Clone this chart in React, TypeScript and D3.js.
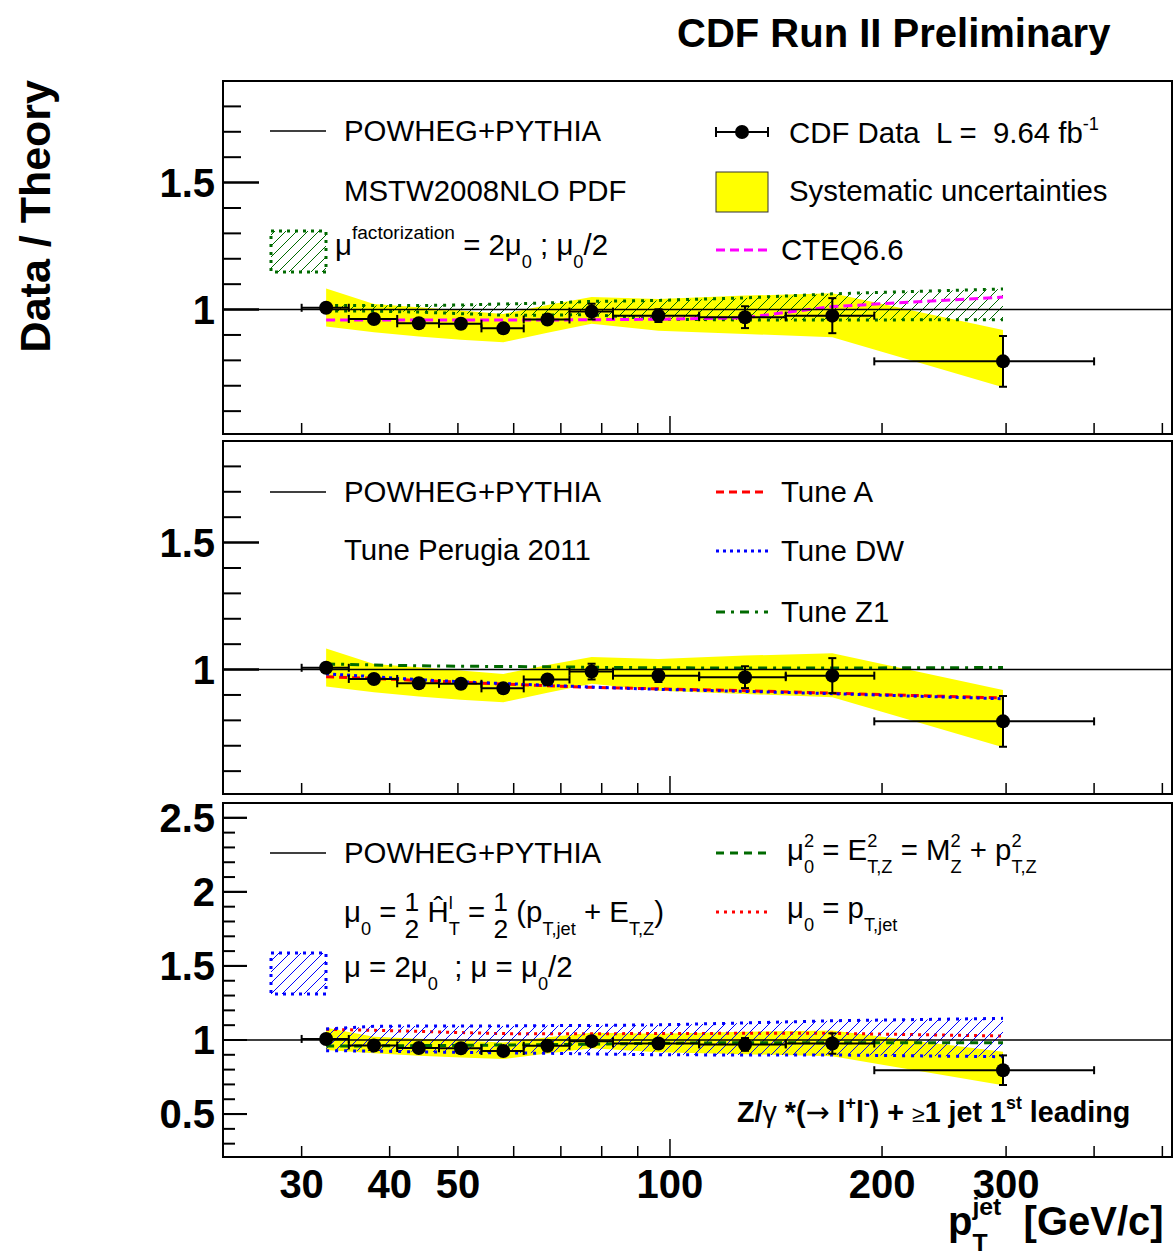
import React from "react";
import * as d3 from "d3";

const binEdges = [30, 35, 41, 47, 54, 62, 72, 83, 110, 146, 195, 400];
const ptMean = [32.5, 38, 44, 50.5, 58, 67, 77.4, 96.3, 127.8, 170, 297];
const ratio = [1.007, 0.963, 0.946, 0.944, 0.926, 0.961, 0.992, 0.976, 0.97, 0.976, 0.796];
const statErr = [0.005, 0.006, 0.006, 0.007, 0.008, 0.01, 0.031, 0.025, 0.043, 0.069, 0.1];
const sysHi = [1.083, 1.022, 1.009, 0.996, 0.983, 1.018, 1.049, 1.042, 1.055, 1.064, 0.92];
const sysLo = [0.933, 0.911, 0.894, 0.881, 0.871, 0.909, 0.944, 0.917, 0.904, 0.891, 0.694];

// top panel: PDF / factorization scale
const muFHi = [1.016, 1.016, 1.016, 1.018, 1.022, 1.026, 1.032, 1.036, 1.046, 1.062, 1.081];
const muFLo = [0.994, 0.994, 0.99, 0.984, 0.978, 0.978, 0.98, 0.962, 0.959, 0.959, 0.96];
const cteq66 = [0.959, 0.959, 0.959, 0.959, 0.959, 0.959, 0.96, 0.962, 0.968, 1.012, 1.049];

// middle panel: underlying event tunes
const tuneA = [0.972, 0.965, 0.957, 0.95, 0.943, 0.936, 0.93, 0.924, 0.917, 0.907, 0.888];
const tuneDW = [0.983, 0.972, 0.96, 0.952, 0.945, 0.938, 0.931, 0.922, 0.914, 0.905, 0.885];
const tuneZ1 = [1.022, 1.018, 1.015, 1.013, 1.012, 1.011, 1.009, 1.007, 1.006, 1.006, 1.008];

// bottom panel: renormalization scale choices
const muHi = [1.075, 1.092, 1.095, 1.095, 1.095, 1.097, 1.098, 1.102, 1.115, 1.13, 1.146];
const muLo = [0.928, 0.925, 0.92, 0.916, 0.913, 0.91, 0.906, 0.9, 0.899, 0.899, 0.887];
const muPtJet = [1.072, 1.065, 1.058, 1.05, 1.043, 1.042, 1.042, 1.044, 1.045, 1.045, 1.027];
const muETZ = [0.959, 0.96, 0.962, 0.964, 0.966, 0.968, 0.972, 0.978, 0.982, 0.982, 0.982];

// axis ticks
const xTicks = [30, 40, 50, 60, 70, 80, 90, 100, 200, 300, 400, 500];
const xLabels = [30, 40, 50, 100, 200, 300];
const yMinorTop = d3.range(6, 19).map((v) => v / 10);
const yMajorTop = [1, 1.5];
const yMinorBot = d3.range(3, 26).map((v) => v / 10);
const yMajorBot = [0.5, 1, 1.5, 2, 2.5];

const FONT = "'Liberation Sans', Arial, Helvetica, sans-serif";
const X0 = 223;
const X1 = 1172;
const x = d3.scaleLog().domain([23.2, 516]).range([X0, X1]);

type Seg = { t: string; sc?: number; off?: number; back?: number; fw?: string; ff?: string };
const sup = (t: string, back?: number): Seg => ({ t, sc: 0.62, off: -0.45, back });
const sub = (t: string, back?: number): Seg => ({ t, sc: 0.62, off: 0.45, back });

function Rich({ x, y, size, segs, bold, anchor }: { x: number; y: number; size: number; segs: Seg[]; bold?: boolean; anchor?: string }) {
  let cur = 0;
  return (
    <text x={x} y={y} fontSize={size} fontWeight={bold ? "bold" : "normal"} textAnchor={anchor || "start"} style={{ whiteSpace: "pre" }}>
      {segs.map((s, i) => {
        const off = s.off ?? 0;
        const dy = (off - cur) * size;
        cur = off;
        return (
          <tspan key={i} dy={dy} dx={s.back ? -s.back * size : 0} fontSize={(s.sc ?? 1) * size} fontWeight={s.fw} fontFamily={s.ff}>
            {s.t}
          </tspan>
        );
      })}
    </text>
  );
}

function Panel({ top, bottom, dom, minor, major, majLen, minLen, children }: any) {
  const y = d3.scaleLinear().domain(dom).range([bottom, top]);
  return (
    <g>
      {children(y)}
      <line x1={X0} x2={X1} y1={y(1)} y2={y(1)} stroke="#000" strokeWidth={1.5} />
      <rect x={X0} y={top} width={X1 - X0} height={bottom - top} fill="none" stroke="#000" strokeWidth={2} />
      {minor.map((v: number) => (
        <line key={"m" + v} x1={X0} x2={X0 + (major.some((m: number) => Math.abs(m - v) < 1e-6) ? majLen : minLen)} y1={y(v)} y2={y(v)} stroke="#000" strokeWidth={2} />
      ))}
      {major.map((v: number) => (
        <g key={"M" + v}>
          <line x1={X0} x2={X0 + majLen} y1={y(v)} y2={y(v)} stroke="#000" strokeWidth={2} />
          <text x={215} y={y(v) + 14} textAnchor="end" fontSize={40} fontWeight="bold">{String(v)}</text>
        </g>
      ))}
      {xTicks.map((t) => (
        <line key={"x" + t} x1={x(t)} x2={x(t)} y1={bottom} y2={bottom - (t === 100 ? 18 : 11)} stroke="#000" strokeWidth={1.5} />
      ))}
    </g>
  );
}

function DataPoints({ y }: { y: (v: number) => number }) {
  return (
    <g stroke="#000" strokeWidth={2}>
      {ratio.map((r, i) => {
        const cy = y(r);
        const xl = x(binEdges[i]);
        const xr = x(binEdges[i + 1]);
        const cx = x(ptMean[i]);
        const yt = y(r + statErr[i]);
        const yb = y(r - statErr[i]);
        return (
          <g key={i}>
            <line x1={xl} x2={xr} y1={cy} y2={cy} />
            <line x1={xl} x2={xl} y1={cy - 4} y2={cy + 4} />
            <line x1={xr} x2={xr} y1={cy - 4} y2={cy + 4} />
            <line x1={cx} x2={cx} y1={yt} y2={yb} />
            <line x1={cx - 4} x2={cx + 4} y1={yt} y2={yt} />
            <line x1={cx - 4} x2={cx + 4} y1={yb} y2={yb} />
            <circle cx={cx} cy={cy} r={7} fill="#000" stroke="none" />
          </g>
        );
      })}
    </g>
  );
}

function bandPath(y: any, hi: number[], lo: number[]) {
  return d3
    .area<number>()
    .x((_, i) => x(ptMean[i]))
    .y0((_, i) => y(lo[i]))
    .y1((_, i) => y(hi[i]))(hi) as string;
}
function linePath(y: any, vals: number[]) {
  return d3
    .line<number>()
    .x((_, i) => x(ptMean[i]))
    .y((d) => y(d))(vals) as string;
}

const GREEN = "#006a00";

function HatchBand({ y, hi, lo, pat, color }: any) {
  return (
    <g>
      <path d={bandPath(y, hi, lo)} fill={`url(#${pat})`} stroke="none" />
      <path d={linePath(y, hi)} fill="none" stroke={color} strokeWidth={3} strokeDasharray="3 6" />
      <path d={linePath(y, lo)} fill="none" stroke={color} strokeWidth={3} strokeDasharray="3 6" />
    </g>
  );
}

export default function App() {
  return (
    <svg width={1175} height={1258} style={{ position: "absolute", left: 0, top: 0, background: "#fff" }} fontFamily={FONT}>
      <defs>
        <pattern id="hg" patternUnits="userSpaceOnUse" width={11} height={11}>
          <path d="M0,11 L11,0 M-3,3 L3,-3 M8,14 L14,8" stroke={GREEN} strokeWidth={1} />
        </pattern>
        <pattern id="hb" patternUnits="userSpaceOnUse" width={11} height={11}>
          <path d="M0,11 L11,0 M-3,3 L3,-3 M8,14 L14,8" stroke="#0000ff" strokeWidth={1} />
        </pattern>
      </defs>
      <rect width={1175} height={1258} fill="#fff" />

      <text x={677} y={47} fontSize={40} fontWeight="bold">CDF Run II Preliminary</text>
      <text transform="translate(50,80) rotate(-90)" textAnchor="end" fontSize={43} fontWeight="bold">Data / Theory</text>

      {/* top panel */}
      <Panel top={81} bottom={434} dom={[0.51, 1.9]} minor={yMinorTop} major={yMajorTop} majLen={36} minLen={18}>
        {(y: any) => (
          <g>
            <path d={bandPath(y, sysHi, sysLo)} fill="#ffff00" />
            <HatchBand y={y} hi={muFHi} lo={muFLo} pat="hg" color={GREEN} />
            <path d={linePath(y, cteq66)} fill="none" stroke="#ff00ff" strokeWidth={3} strokeDasharray="9 5" />
            <DataPoints y={y} />
          </g>
        )}
      </Panel>

      {/* middle panel */}
      <Panel top={441} bottom={794} dom={[0.51, 1.9]} minor={yMinorTop} major={yMajorTop} majLen={36} minLen={18}>
        {(y: any) => (
          <g>
            <path d={bandPath(y, sysHi, sysLo)} fill="#ffff00" />
            <path d={linePath(y, tuneZ1)} fill="none" stroke={GREEN} strokeWidth={3} strokeDasharray="9 6 3 6" />
            <path d={linePath(y, tuneA)} fill="none" stroke="#ff0000" strokeWidth={3} strokeDasharray="8 5" />
            <path d={linePath(y, tuneDW)} fill="none" stroke="#0000ff" strokeWidth={3} strokeDasharray="3 4" />
            <DataPoints y={y} />
          </g>
        )}
      </Panel>

      {/* bottom panel */}
      <Panel top={803} bottom={1157} dom={[0.21, 2.6]} minor={yMinorBot} major={yMajorBot} majLen={24} minLen={12}>
        {(y: any) => (
          <g>
            <path d={bandPath(y, sysHi, sysLo)} fill="#ffff00" />
            <path d={linePath(y, muPtJet)} fill="none" stroke="#ff0000" strokeWidth={3} strokeDasharray="3 5" />
            <HatchBand y={y} hi={muHi} lo={muLo} pat="hb" color="#0000ff" />
            <path d={linePath(y, muETZ)} fill="none" stroke={GREEN} strokeWidth={3} strokeDasharray="8 6" />
            <DataPoints y={y} />
          </g>
        )}
      </Panel>

      {/* x axis labels */}
      {xLabels.map((t) => (
        <text key={t} x={x(t)} y={1198} textAnchor="middle" fontSize={40} fontWeight="bold">{String(t)}</text>
      ))}
      <Rich x={948} y={1235} size={40} bold segs={[{ t: "p" }, { t: "T", sc: 0.62, off: 0.4 }, { t: "jet", sc: 0.62, off: -0.5, back: 0.611 * 0.62 }, { t: "  [GeV/c]", off: 0 }]} />

      {/* top legend */}
      <g fontSize={29.4}>
        <line x1={270} x2={326} y1={131} y2={131} stroke="#000" strokeWidth={1.5} />
        <text x={344} y={141}>POWHEG+PYTHIA</text>
        <text x={344} y={201}>MSTW2008NLO PDF</text>
        <rect x={271} y={231} width={55} height={41} fill="url(#hg)" stroke={GREEN} strokeWidth={3} strokeDasharray="3 5" />
        <Rich x={335} y={255} size={29.4} segs={[{ t: "μ" }, { t: "factorization", sc: 0.65, off: -0.55 }, { t: " = 2μ", off: 0 }, sub("0"), { t: " ; μ", off: 0 }, sub("0"), { t: "/2", off: 0 }]} />
        <g stroke="#000" strokeWidth={2}>
          <line x1={716} x2={768} y1={132} y2={132} />
          <line x1={716} x2={716} y1={127} y2={137} />
          <line x1={768} x2={768} y1={127} y2={137} />
          <circle cx={742} cy={132} r={7} fill="#000" stroke="none" />
        </g>
        <Rich x={789} y={143} size={29.4} segs={[{ t: "CDF Data  L =  9.64 fb" }, sup("-1")]} />
        <rect x={716} y={172} width={52} height={40} fill="#ffff00" stroke="#333" strokeWidth={1} />
        <text x={789} y={201}>Systematic uncertainties</text>
        <line x1={716} x2={768} y1={250} y2={250} stroke="#ff00ff" strokeWidth={3} strokeDasharray="9 5" />
        <text x={781} y={260}>CTEQ6.6</text>
      </g>

      {/* middle legend */}
      <g fontSize={29.4}>
        <line x1={270} x2={326} y1={492} y2={492} stroke="#000" strokeWidth={1.5} />
        <text x={344} y={502}>POWHEG+PYTHIA</text>
        <text x={344} y={560}>Tune Perugia 2011</text>
        <line x1={716} x2={768} y1={492} y2={492} stroke="#ff0000" strokeWidth={3} strokeDasharray="8 5" />
        <text x={781} y={502}>Tune A</text>
        <line x1={716} x2={768} y1={551} y2={551} stroke="#0000ff" strokeWidth={3} strokeDasharray="3 4" />
        <text x={781} y={561}>Tune DW</text>
        <line x1={716} x2={768} y1={612} y2={612} stroke={GREEN} strokeWidth={3} strokeDasharray="9 6 3 6" />
        <text x={781} y={622}>Tune Z1</text>
      </g>

      {/* bottom legend */}
      <g fontSize={29.4}>
        <line x1={270} x2={326} y1={853} y2={853} stroke="#000" strokeWidth={1.5} />
        <text x={344} y={863}>POWHEG+PYTHIA</text>
        <Rich
          x={344}
          y={922}
          size={29.4}
          segs={[
            { t: "μ" }, sub("0"), { t: " = ", off: 0 },
            { t: "1", sc: 0.9, off: -0.36 }, { t: "2", sc: 0.9, off: 0.55, back: 0.5 },
            { t: " Ĥ", off: 0 }, sup("l"), sub("T", 0.138),
            { t: " = ", off: 0 },
            { t: "1", sc: 0.9, off: -0.36 }, { t: "2", sc: 0.9, off: 0.55, back: 0.5 },
            { t: " (p", off: 0 }, sub("T,jet"), { t: " + E", off: 0 }, sub("T,Z"), { t: ")", off: 0 },
          ]}
        />
        <rect x={271} y={953} width={55} height={41} fill="url(#hb)" stroke="#0000ff" strokeWidth={3} strokeDasharray="3 5" />
        <Rich x={344} y={977} size={29.4} segs={[{ t: "μ = 2μ" }, sub("0"), { t: "  ; μ = μ", off: 0 }, sub("0"), { t: "/2", off: 0 }]} />
        <line x1={716} x2={768} y1={853} y2={853} stroke={GREEN} strokeWidth={3} strokeDasharray="8 6" />
        <Rich
          x={787}
          y={860}
          size={29.4}
          segs={[
            { t: "μ" }, sup("2"), sub("0", 0.345),
            { t: " = E", off: 0 }, sup("2"), sub("T,Z", 0.345),
            { t: " = M", off: 0 }, sup("2"), sub("Z", 0.345),
            { t: " + p", off: 0 }, sup("2"), sub("T,Z", 0.345),
          ]}
        />
        <line x1={716} x2={768} y1={912} y2={912} stroke="#ff0000" strokeWidth={3} strokeDasharray="3 5" />
        <Rich x={787} y={918} size={29.4} segs={[{ t: "μ" }, sub("0"), { t: " = p", off: 0 }, sub("T,jet")]} />
        <Rich
          x={737}
          y={1122}
          size={28.7}
          bold
          segs={[
            { t: "Z/" }, { t: "γ", fw: "normal" }, { t: " *(" }, { t: "→", fw: "normal", ff: "'DejaVu Sans'" }, { t: " l" }, sup("+"), { t: "l", off: 0 }, sup("-"),
            { t: ") + ", off: 0 }, { t: "≥", sc: 0.8, fw: "normal" }, { t: "1 jet 1" }, sup("st"), { t: " leading", off: 0 },
          ]}
        />
      </g>
    </svg>
  );
}
